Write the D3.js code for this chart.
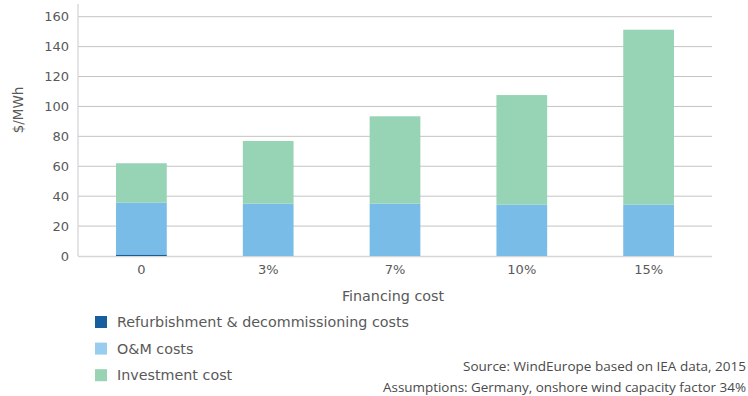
<!DOCTYPE html>
<html>
<head>
<meta charset="utf-8">
<script src="https://cdn.jsdelivr.net/npm/d3@7"></script>
<style>
  html, body { margin: 0; padding: 0; background: #fff; }
  svg { display: block; }
</style>
</head>
<body>
<svg id="chart" width="748" height="396"></svg>
<script>
// Levelised cost of onshore wind by financing cost
const categories = ["0", "3%", "7%", "10%", "15%"];
const refurbishment = [1, 0, 0, 0, 0];
const omCosts = [34.6, 35.0, 35.0, 34.3, 34.3];
const investment = [26.4, 41.9, 58.4, 73.3, 117.0];
const yTicks = [0, 20, 40, 60, 80, 100, 120, 140, 160];

const seriesNames = ["Refurbishment & decommissioning costs", "O&M costs", "Investment cost"];
const seriesKeys = ["refurb", "om", "inv"];
const colors = ["#175e9f", "#79bce7", "#97d3b5"];
const legendColors = ["#175e9f", "#99cdef", "#98d3b4"];

const rows = categories.map((c, i) => ({
  cat: c, refurb: refurbishment[i], om: omCosts[i], inv: investment[i]
}));

const svg = d3.select("#chart");
const left = 78, right = 712, bottom = 256;
const x = d3.scaleBand().domain(categories).range([left, right])
  .paddingInner(0.6).paddingOuter(0.3);
const y = d3.scaleLinear().domain([0, 160]).range([bottom, 16.7]);

const tickFont = "DejaVu Sans, sans-serif";
const textGrey = "#595959";

// horizontal gridlines
svg.append("g").selectAll("line").data(yTicks.filter(d => d > 0)).join("line")
  .attr("x1", left).attr("x2", right)
  .attr("y1", d => y(d)).attr("y2", d => y(d))
  .attr("stroke", "#c4c4c4").attr("stroke-width", 1);

// y axis line
svg.append("line").attr("x1", left).attr("x2", left)
  .attr("y1", y(168.5)).attr("y2", bottom)
  .attr("stroke", "#d2d2d2").attr("stroke-width", 1.2);

// x axis baseline (under the bars so thin segments stay visible)
svg.append("line").attr("x1", left).attr("x2", right)
  .attr("y1", bottom + 0.5).attr("y2", bottom + 0.5)
  .attr("stroke", "#d6d6d6").attr("stroke-width", 1.5);

// stacked bars
const stack = d3.stack().keys(seriesKeys)(rows);
svg.append("g").selectAll("g").data(stack).join("g")
  .attr("fill", (d, i) => colors[i])
  .selectAll("rect").data(d => d).join("rect")
  .attr("x", d => x(d.data.cat))
  .attr("width", x.bandwidth())
  .attr("y", d => y(d[1]))
  .attr("height", d => y(d[0]) - y(d[1]));

// y tick labels
const yAxis = svg.append("g").attr("transform", `translate(${left},0)`)
  .call(d3.axisLeft(y).tickValues(yTicks).tickSize(0).tickPadding(9));
yAxis.select(".domain").remove();
yAxis.selectAll("text").attr("font-family", tickFont).attr("font-size", 13)
  .attr("fill", textGrey);

// x tick labels
const xAxis = svg.append("g").attr("transform", `translate(0,${bottom})`)
  .call(d3.axisBottom(x).tickSize(0).tickPadding(9));
xAxis.select(".domain").remove();
xAxis.selectAll("text").attr("font-family", tickFont).attr("font-size", 13)
  .attr("fill", textGrey);

// axis titles
svg.append("text").attr("transform", "translate(23,110) rotate(-90)")
  .attr("text-anchor", "middle").attr("font-family", tickFont).attr("font-size", 13.5)
  .attr("fill", textGrey).text("$/MWh");
svg.append("text").attr("x", (left + right) / 2 - 2).attr("y", 301)
  .attr("text-anchor", "middle").attr("font-family", tickFont).attr("font-size", 14.3)
  .attr("fill", textGrey).text("Financing cost");

// legend
const legend = svg.append("g").selectAll("g").data(seriesNames).join("g")
  .attr("transform", (d, i) => `translate(95,${316 + i * 26.6})`);
legend.append("rect").attr("width", 12).attr("height", 12)
  .attr("fill", (d, i) => legendColors[i]);
legend.append("text").attr("x", 22).attr("y", 11)
  .attr("font-family", tickFont).attr("font-size", 14.3)
  .attr("fill", textGrey).text(d => d);

// source notes
const noteFont = "Open Sans, sans-serif";
svg.append("text").attr("x", 746).attr("y", 371).attr("text-anchor", "end")
  .attr("font-family", noteFont).attr("font-size", 13.3).attr("fill", "#4a4a4a")
  .attr("textLength", 283).attr("lengthAdjust", "spacingAndGlyphs")
  .text("Source: WindEurope based on IEA data, 2015");
svg.append("text").attr("x", 746).attr("y", 392).attr("text-anchor", "end")
  .attr("font-family", noteFont).attr("font-size", 13.3).attr("fill", "#4a4a4a")
  .attr("textLength", 363).attr("lengthAdjust", "spacingAndGlyphs")
  .text("Assumptions: Germany, onshore wind capacity factor 34%");
</script>
</body>
</html>
